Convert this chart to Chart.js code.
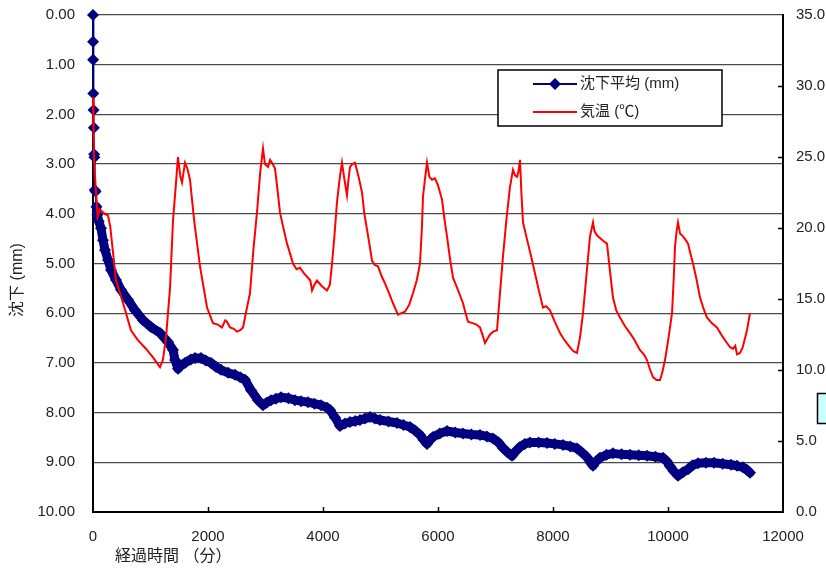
<!DOCTYPE html>
<html>
<head>
<meta charset="utf-8">
<script src="https://cdn.jsdelivr.net/npm/chart.js@4.4.0/dist/chart.umd.min.js"></script>
<style>
  body { margin: 0; background: #fff; }
  canvas { display: block; }
</style>
</head>
<body>
<canvas id="settleChart" width="826" height="571"></canvas>
<script>
const FONT = "'Liberation Sans', 'Noto Sans CJK JP', sans-serif"

// 沈下平均 (mm)
const settleTime = [
  0, 1, 2, 5, 10, 15, 20, 25, 30, 45, 60, 75, 100, 139, 174, 209, 261, 313, 400, 487,
  609, 730, 870, 1009, 1165, 1304, 1391, 1426, 1478, 1530, 1600, 1700, 1774, 1878, 1960,
  2052, 2140, 2226, 2350, 2470, 2560, 2643, 2748, 2870, 2957, 3020, 3096, 3180, 3270,
  3400, 3513, 3620, 3739, 3850, 3965, 4070, 4122, 4209, 4296, 4380, 4470, 4560, 4643,
  4730, 4817, 4900, 4991, 5140, 5287, 5400, 5513, 5600, 5687, 5750, 5809, 5860, 5913,
  6030, 6157, 6300, 6435, 6580, 6730, 6850, 6957, 7050, 7130, 7210, 7287, 7350, 7426,
  7510, 7600, 7750, 7896, 8030, 8174, 8300, 8417, 8500, 8591, 8650, 8696, 8750, 8817,
  8930, 9043, 9190, 9339, 9490, 9635, 9780, 9913, 9980, 10035, 10100, 10174, 10260,
  10348, 10430, 10522, 10660, 10800, 10950, 11096, 11200, 11304, 11370, 11426,
]
const settleValue = [
  0.0, 0.54, 0.9, 1.58, 1.91, 2.27, 2.8, 2.86, 3.52, 3.55, 3.86, 4.02, 4.15, 4.29, 4.53,
  4.73, 4.93, 5.13, 5.33, 5.53, 5.73, 5.94, 6.14, 6.28, 6.4, 6.58, 6.74, 6.94, 7.12, 7.05,
  7.0, 6.93, 6.9, 6.9, 6.95, 7.0, 7.08, 7.14, 7.2, 7.24, 7.29, 7.34, 7.55, 7.75, 7.85,
  7.8, 7.75, 7.72, 7.69, 7.71, 7.75, 7.77, 7.79, 7.82, 7.85, 7.9, 7.95, 8.1, 8.27, 8.22,
  8.19, 8.17, 8.15, 8.12, 8.09, 8.12, 8.15, 8.18, 8.21, 8.25, 8.29, 8.36, 8.45, 8.55,
  8.63, 8.55, 8.49, 8.42, 8.37, 8.4, 8.42, 8.44, 8.45, 8.48, 8.52, 8.6, 8.71, 8.8, 8.87,
  8.78, 8.69, 8.63, 8.6, 8.6, 8.61, 8.63, 8.65, 8.68, 8.72, 8.8, 8.9, 9.0, 9.07, 8.98,
  8.91, 8.85, 8.82, 8.84, 8.85, 8.86, 8.87, 8.89, 8.91, 8.98, 9.08, 9.18, 9.27, 9.2,
  9.14, 9.06, 9.02, 9.01, 9.01, 9.03, 9.05, 9.07, 9.1, 9.15, 9.21,
]

// 気温 (℃)
const tempTime = [
  0, 10, 20, 50, 80, 120, 200, 260, 300, 350, 400, 470, 560, 660, 780, 920, 1040, 1165,
  1215, 1270, 1340, 1391, 1440, 1478, 1520, 1548, 1600, 1640, 1687, 1760, 1861, 1983,
  2087, 2170, 2243, 2300, 2330, 2383, 2450, 2504, 2560, 2609, 2678, 2730, 2790, 2852,
  2910, 2957, 2990, 3043, 3080, 3113, 3165, 3200, 3252, 3300, 3374, 3420, 3478, 3540,
  3600, 3670, 3739, 3780, 3809, 3850, 3896, 3980, 4070, 4120, 4157, 4200, 4243, 4290,
  4330, 4370, 4417, 4440, 4470, 4510, 4557, 4620, 4678, 4720, 4765, 4810, 4852, 4900,
  4957, 5020, 5078, 5150, 5217, 5260, 5304, 5360, 5426, 5500, 5565, 5630, 5687, 5720,
  5739, 5775, 5809, 5850, 5896, 5948, 6000, 6070, 6110, 6157, 6210, 6261, 6350, 6435,
  6480, 6522, 6600, 6670, 6730, 6780, 6817, 6860, 6904, 6960, 7026, 7080, 7130, 7190,
  7252, 7304, 7340, 7374, 7400, 7426, 7450, 7478, 7548, 7620, 7687, 7760, 7826, 7880,
  7948, 8030, 8122, 8200, 8296, 8360, 8417, 8470, 8522, 8580, 8643, 8696, 8720, 8760,
  8817, 8870, 8939, 8990, 9043, 9100, 9165, 9250, 9339, 9420, 9513, 9580, 9635, 9690,
  9739, 9800, 9861, 9900, 9948, 10010, 10070, 10100, 10122, 10150, 10174, 10210, 10243,
  10300, 10348, 10390, 10435, 10500, 10557, 10620, 10678, 10760, 10852, 10940, 11026,
  11080, 11130, 11170, 11200, 11252, 11300, 11374, 11426,
]
const tempValue = [
  29.2, 26.5, 24.6, 22.7, 20.8, 21.3, 21.0, 20.9, 20.1, 18.2, 16.3, 15.4, 14.2, 12.8,
  12.1, 11.5, 10.9, 10.2, 10.7, 12.3, 15.8, 20.5, 23.0, 25.0, 23.6, 23.2, 24.6, 24.2,
  23.4, 20.5, 17.3, 14.4, 13.3, 13.2, 13.0, 13.5, 13.4, 13.0, 12.9, 12.7, 12.8, 13.0,
  14.4, 15.4, 18.5, 21.1, 24.0, 25.6, 24.5, 24.3, 24.8, 24.6, 24.2, 23.0, 21.1, 20.2,
  18.9, 18.3, 17.5, 17.1, 17.2, 16.8, 16.5, 16.3, 15.6, 16.0, 16.3, 15.9, 15.6, 16.0,
  17.5, 19.5, 21.8, 23.5, 24.6, 23.5, 22.3, 23.3, 24.3, 24.5, 24.6, 23.6, 22.5, 21.0,
  19.9, 18.8, 17.7, 17.4, 17.3, 16.6, 16.1, 15.4, 14.7, 14.3, 13.9, 14.0, 14.1, 14.6,
  15.4, 16.3, 17.5, 20.0, 22.2, 23.5, 24.6, 23.6, 23.4, 23.5, 23.0, 22.0, 20.7, 19.4,
  17.8, 16.5, 15.6, 14.7, 14.0, 13.4, 13.3, 13.2, 13.0, 12.4, 11.9, 12.2, 12.5, 12.7,
  12.8, 15.5, 18.0, 20.6, 22.9, 24.1, 23.7, 23.6, 24.0, 24.8, 22.5, 20.4, 19.2, 18.0,
  16.8, 15.5, 14.4, 14.5, 14.2, 13.4, 12.6, 12.1, 11.6, 11.3, 11.2, 12.3, 14.0, 16.6,
  19.4, 20.4, 19.8, 19.5, 19.3, 19.1, 18.9, 17.0, 15.1, 14.2, 13.7, 13.1, 12.6, 12.1,
  11.4, 11.1, 10.7, 10.0, 9.5, 9.3, 9.3, 9.8, 10.7, 12.3, 14.0, 16.5, 18.7, 19.8, 20.4,
  19.6, 19.5, 19.2, 18.9, 18.2, 17.5, 16.3, 15.1, 14.3, 13.7, 13.3, 13.0, 12.4, 11.9,
  11.6, 11.5, 11.7, 11.1, 11.2, 11.6, 12.8, 14.0,
]

const xTicks = [0, 2000, 4000, 6000, 8000, 10000, 12000]
const settleTicks = [0, 1, 2, 3, 4, 5, 6, 7, 8, 9, 10]
const tempTicks = [0, 5, 10, 15, 20, 25, 30, 35]

const NAVY = "#000080"
const RED = "#ff0000"

const settleData = settleTime.map((t, i) => ({ x: t, y: settleValue[i] }))
const tempData = tempTime.map((t, i) => ({ x: t, y: tempValue[i] }))

// titles, inner tick marks, legend box and the small box at the right edge
const decorPlugin = {
  id: "decor",
  afterDraw(chart) {
    const { ctx, chartArea, scales } = chart
    ctx.save()

    // inner tick marks on x and right axis
    ctx.strokeStyle = "#000"
    ctx.lineWidth = 1.5
    xTicks.slice(1, -1).forEach((v) => {
      const px = Math.round(scales.x.getPixelForValue(v)) + 0.5
      ctx.beginPath()
      ctx.moveTo(px, chartArea.bottom)
      ctx.lineTo(px, chartArea.bottom - 5)
      ctx.stroke()
    })
    tempTicks.slice(1, -1).forEach((v) => {
      const py = Math.round(scales.y2.getPixelForValue(v)) + 0.5
      ctx.beginPath()
      ctx.moveTo(chartArea.right, py)
      ctx.lineTo(chartArea.right - 5, py)
      ctx.stroke()
    })

    // axis titles
    ctx.fillStyle = "#222"
    ctx.font = "16px " + FONT
    ctx.textBaseline = "middle"
    ctx.textAlign = "left"
    ctx.fillText("経過時間 （分）", 115, 557)
    ctx.save()
    ctx.translate(18, 280)
    ctx.rotate(-Math.PI / 2)
    ctx.textAlign = "center"
    ctx.fillText("沈下 (mm)", 0, 0)
    ctx.restore()

    // legend
    const ds = chart.data.datasets
    ctx.fillStyle = "#fff"
    ctx.fillRect(498, 70, 224, 56)
    ctx.strokeStyle = "#000"
    ctx.lineWidth = 1.5
    ctx.strokeRect(498, 70, 224, 56)
    const rows = [84, 112]
    ds.forEach((d, i) => {
      const y = rows[i]
      ctx.strokeStyle = d.borderColor
      ctx.lineWidth = 2
      ctx.beginPath()
      ctx.moveTo(533, y)
      ctx.lineTo(577, y)
      ctx.stroke()
      if (d.pointRadius > 0) {
        ctx.fillStyle = d.pointBackgroundColor
        ctx.beginPath()
        ctx.moveTo(555, y - 6)
        ctx.lineTo(561, y)
        ctx.lineTo(555, y + 6)
        ctx.lineTo(549, y)
        ctx.closePath()
        ctx.fill()
      }
      ctx.fillStyle = "#222"
      ctx.font = "15px " + FONT
      ctx.textAlign = "left"
      ctx.fillText(d.label, 580, y)
    })

    // partly visible box at the right edge
    ctx.fillStyle = "#ccffff"
    ctx.fillRect(817, 393, 12, 31)
    ctx.strokeStyle = "#000"
    ctx.lineWidth = 1.5
    ctx.strokeRect(817.5, 393.5, 12, 30)

    ctx.restore()
  },
}

new Chart(document.getElementById("settleChart").getContext("2d"), {
  type: "line",
  data: {
    datasets: [
      {
        label: "沈下平均 (mm)",
        data: settleData,
        yAxisID: "y",
        order: 2,
        clip: 12,
        borderColor: NAVY,
        backgroundColor: NAVY,
        pointBackgroundColor: NAVY,
        pointBorderWidth: 0,
        pointStyle: "rectRot",
        pointRadius: 6,
        borderWidth: 9,
        borderJoinStyle: "round",
        borderCapStyle: "round",
        tension: 0,
        segment: {
          borderWidth: (c) => (c.p1.parsed.x <= 60 ? 2 : 9),
        },
      },
      {
        label: "気温 (℃)",
        data: tempData,
        yAxisID: "y2",
        order: 1,
        clip: 4,
        borderColor: RED,
        backgroundColor: RED,
        borderWidth: 2,
        pointRadius: 0,
        tension: 0,
      },
    ],
  },
  options: {
    responsive: false,
    animation: false,
    layout: { padding: { top: 15, left: 0, right: 0, bottom: 0 } },
    plugins: {
      legend: { display: false },
      tooltip: { enabled: false },
    },
    scales: {
      x: {
        type: "linear",
        min: 0,
        max: 12000,
        afterFit(axis) {
          axis.height = 59
        },
        afterBuildTicks(axis) {
          axis.ticks = xTicks.map((v) => ({ value: v }))
        },
        grid: { display: false, drawTicks: false },
        border: { display: true, color: "#000", width: 2 },
        ticks: {
          padding: 16,
          color: "#222",
          font: { family: FONT, size: 15 },
          maxRotation: 0,
          callback: (v) => String(v),
        },
      },
      y: {
        position: "left",
        reverse: true,
        min: 0,
        max: 10,
        afterFit(axis) {
          axis.width = 93
          axis.paddingTop = 0
          axis.paddingBottom = 0
        },
        afterBuildTicks(axis) {
          axis.ticks = settleTicks.map((v) => ({ value: v }))
        },
        grid: { color: "#4a4a4a", lineWidth: 1.3, drawTicks: false },
        border: { display: true, color: "#000", width: 2 },
        ticks: {
          padding: 18,
          color: "#222",
          font: { family: FONT, size: 15 },
          callback: (v) => Number(v).toFixed(2),
        },
      },
      y2: {
        position: "right",
        min: 0,
        max: 35,
        afterFit(axis) {
          axis.width = 43
          axis.paddingTop = 0
          axis.paddingBottom = 0
        },
        afterBuildTicks(axis) {
          axis.ticks = tempTicks.map((v) => ({ value: v }))
        },
        grid: { display: false, drawTicks: false },
        border: { display: true, color: "#000", width: 2 },
        ticks: {
          padding: 13,
          color: "#222",
          font: { family: FONT, size: 15 },
          callback: (v) => Number(v).toFixed(1),
        },
      },
    },
  },
  plugins: [decorPlugin],
})
</script>
</body>
</html>
